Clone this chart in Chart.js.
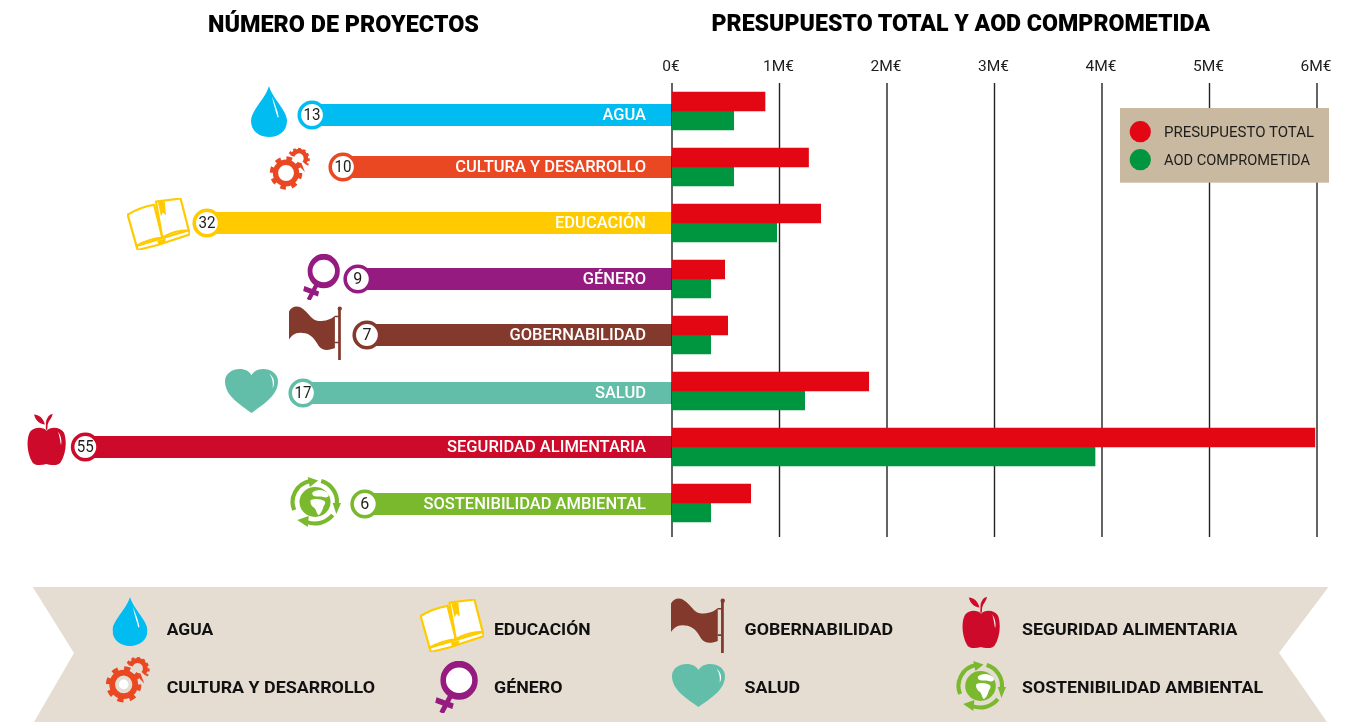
<!DOCTYPE html>
<html lang="es"><head><meta charset="utf-8"><title>Proyectos y presupuesto</title>
<script src="https://cdn.jsdelivr.net/npm/chart.js@4"></script>
<style>
html,body{margin:0;padding:0;background:#fff;width:1368px;height:722px;overflow:hidden}
canvas,#overlay{position:absolute;left:0;top:0}
#overlay text{font-family:Roboto,sans-serif}
</style></head><body>
<canvas id="left" width="1368" height="722"></canvas>
<canvas id="right" width="1368" height="722"></canvas>
<svg id="overlay" width="1368" height="722" viewBox="0 0 1368 722" xmlns="http://www.w3.org/2000/svg">
<defs>
<symbol id="i-drop" viewBox="0 0 100 100" preserveAspectRatio="none">
 <path fill="#00bcf0" d="M50 0C60 25 100 48 100 68C100 88 78 100 50 100C22 100 0 88 0 68C0 48 40 25 50 0Z"/>
 <path fill="#fff" d="M58 20C66 34 74 48 77 61L74 62C69 50 62 34 58 20Z"/>
</symbol>
<symbol id="i-gear" viewBox="0 0 100 100" preserveAspectRatio="none">
 <circle cx="41" cy="60" r="24" fill="none" stroke="#e94823" stroke-width="12"/>
 <circle cx="41" cy="60" r="32" fill="none" stroke="#e94823" stroke-width="10" stroke-dasharray="12.5 12.63"/>
 <circle cx="41" cy="60" r="10" fill="#fff"/>
 <path d="M55 22A16 16 0 1 1 82 38" fill="none" stroke="#e94823" stroke-width="10"/>
 <path d="M50 18A22 22 0 1 1 88 42" fill="none" stroke="#e94823" stroke-width="7" stroke-dasharray="6 5"/>
 <path d="M68 36L76 38L84 58L76 50Z" fill="#e94823"/>
</symbol>
<symbol id="i-book" viewBox="0 0 100 100" preserveAspectRatio="none">
 <g fill="#fff" stroke="#ffcb00" stroke-width="2.2" stroke-linejoin="round">
  <path vector-effect="non-scaling-stroke" d="M15 92L17 100L50 90L62 85L100 70L98 62Z"/>
  <path vector-effect="non-scaling-stroke" d="M1 32Q20 18 43 13L56 76Q35 78 15 92Z"/>
  <path vector-effect="non-scaling-stroke" d="M46 7Q66 4 85 1L98 62Q75 62 56 76Z"/>
 </g>
 <path fill="#ffcb00" d="M49 8L60 7L62 33L57 28L54 35ZM48 82L62 78L60 86L50 90Z"/>
</symbol>
<symbol id="i-female" viewBox="0 0 100 100" preserveAspectRatio="none">
 <path d="M37 66L15 100M2 75L42 87" fill="none" stroke="#951b81" stroke-width="11"/>
 <ellipse cx="56" cy="37" rx="37" ry="31" fill="#fff" stroke="#951b81" stroke-width="13"/>
</symbol>
<symbol id="i-flag" viewBox="0 0 100 100" preserveAspectRatio="none">
 <path fill="#83392c" d="M0 10C5 0 15-1 22 3C35 10 42 28 55 28C68 28 78 25 85 18L85 78C75 82 62 84 55 74C48 62 40 50 25 50C12 48 5 55 0 62Z"/>
 <path fill="#83392c" d="M91 5H96V100H91ZM85 18H92V21H85ZM85 66H92V69H85Z"/>
 <circle cx="94" cy="5" r="4" fill="#83392c"/>
</symbol>
<symbol id="i-heart" viewBox="0 0 100 100" preserveAspectRatio="none">
 <path fill="#62bea8" d="M50 100C30 82 0 62 0 28C0 10 14 0 28 0C38 0 46 5 50 14C54 5 62 0 72 0C86 0 100 10 100 28C100 62 70 82 50 100Z"/>
 <path fill="#fff" d="M84 11C93 20 95 32 90 44C91 32 90 21 84 11Z"/>
</symbol>
<symbol id="i-apple" viewBox="0 0 100 100" preserveAspectRatio="none">
 <path fill="#cd0a2a" d="M50 34C60 26 85 26 95 38C103 55 100 80 85 96C75 102 60 100 50 98C38 100 25 102 15 96C0 80-3 50 8 36C18 27 40 26 50 34Z"/>
 <path fill="#cd0a2a" d="M18 3C30 3 42 10 46 22C35 22 22 16 18 3ZM48 32L49 16C52 8 58 2 66 2C64 10 56 14 53 22L52 32Z"/>
 <path fill="#fff" d="M80 36C88 45 90 55 87 62C85 52 83 44 80 36Z"/>
</symbol>
<symbol id="i-earth" viewBox="0 0 100 100" preserveAspectRatio="none">
 <g fill="none" stroke="#7ab82e" stroke-width="8">
  <path d="M10 66A43 43 0 0 1 40 8"/><path d="M62 8A43 43 0 0 1 92 54"/><path d="M84 76A43 43 0 0 1 34 90"/>
 </g>
 <path fill="#7ab82e" d="M36 0L56 7L40 20ZM84 52L100 52L91 74ZM38 78L36 100L16 86Z"/>
 <circle cx="50" cy="50" r="30" fill="#7ab82e"/>
 <path fill="#fff" d="M42 46C50 42 62 44 68 48C72 52 68 56 66 60C64 68 60 76 56 76C52 70 52 62 46 60C42 56 40 50 42 46ZM46 30C54 24 68 24 76 34C78 40 72 42 66 40C60 38 54 40 48 38C44 36 44 32 46 30Z"/>
</symbol>
</defs>
<g id="art"></g>
</svg>
<script>
// ---- values ----
const categories = ["AGUA","CULTURA Y DESARROLLO","EDUCACIÓN","GÉNERO","GOBERNABILIDAD","SALUD","SEGURIDAD ALIMENTARIA","SOSTENIBILIDAD AMBIENTAL"];
const projects = [13,10,32,9,7,17,55,6];
// length of each project bar as drawn, on an axis where the longest bar reads 55
const barReach = [33.75,30.85,43.6,29.45,28.6,34.6,55,28.8];
const budgetTotal = [0.865,1.27,1.383,0.49,0.518,1.83,5.98,0.732];
const aodCommitted = [0.574,0.574,0.974,0.36,0.36,1.234,3.935,0.36];
const seriesNames = ["PRESUPUESTO TOTAL","AOD COMPROMETIDA"];
const titles = ["NÚMERO DE PROYECTOS","PRESUPUESTO TOTAL Y AOD COMPROMETIDA"];

// ---- styling ----
const catColors = ["#00bcf0","#e94823","#ffcb00","#951b81","#83392c","#62bea8","#cd0a2a","#7ab82e"];
const RED="#e30613", GREEN="#009640", INK="#1d1d1b";
const rowNudge=[4,0,0,0,0,2,0,1];

const leftPlugin={id:'leftDecor',
 afterDatasetsUpdate(c){c.data.datasets.forEach((d,i)=>c.getDatasetMeta(i).data.forEach((el,k)=>{el.y+=rowNudge[k]}));},
 afterDraw(c){const ctx=c.ctx,pts=c.getDatasetMeta(0).data;ctx.save();ctx.textBaseline='middle';
  pts.forEach((el,k)=>{
   ctx.fillStyle='#fff';ctx.textAlign='right';ctx.font='500 16.5px Roboto';
   ctx.fillText(categories[k],646,el.y+1);
   ctx.fillStyle=INK;ctx.textAlign='center';ctx.font='400 17px Roboto';
   const s=String(projects[k]);
   ctx.fillText(s,el.x,el.y+1,s.length>1?17:9);
  });ctx.restore();}};

new Chart(document.getElementById('left'),{
 type:'bar',plugins:[leftPlugin],
 data:{labels:categories,datasets:[
  {type:'line',data:barReach,showLine:false,order:1,clip:false,pointRadius:12.7,pointBorderWidth:3.6,pointBackgroundColor:'#fff',pointBorderColor:catColors},
  {type:'bar',data:barReach,order:2,backgroundColor:catColors,barThickness:21.3,borderWidth:0}
 ]},
 options:{indexAxis:'y',responsive:false,animation:false,events:[],
  layout:{autoPadding:false,padding:{left:0,right:696,top:83,bottom:191}},
  plugins:{legend:{display:false},tooltip:{enabled:false},title:{display:false}},
  scales:{x:{display:false,reverse:true,min:0,max:63},y:{display:false}}}
});

const gridPlugin={id:'longGrid',beforeDatasetsDraw(c){const x=c.scales.x,ctx=c.ctx;ctx.save();ctx.strokeStyle='#222';ctx.lineWidth=1.4;
  x.ticks.forEach(t=>{const p=x.getPixelForValue(t.value);ctx.beginPath();ctx.moveTo(p,83);ctx.lineTo(p,537);ctx.stroke();});ctx.restore();}};

new Chart(document.getElementById('right'),{
 type:'bar',plugins:[gridPlugin],
 data:{labels:categories,datasets:[
  {label:seriesNames[0],data:budgetTotal,backgroundColor:RED,barThickness:19,borderWidth:0},
  {label:seriesNames[1],data:aodCommitted,backgroundColor:GREEN,barThickness:19,borderWidth:0}
 ]},
 options:{indexAxis:'y',responsive:false,animation:false,events:[],
  layout:{autoPadding:false,padding:{left:672,right:51,top:0,bottom:191}},
  plugins:{legend:{display:false},tooltip:{enabled:false},title:{display:false}},
  scales:{
   x:{position:'top',min:0,max:6,afterFit(s){s.height=83;},
      grid:{display:false},border:{display:false},
      ticks:{stepSize:1,maxRotation:0,padding:-1,labelOffset:-1,color:INK,font:{family:'Roboto',size:15.5,weight:'400'},callback:v=>v===0?'0€':v+'M€'}},
   y:{display:false}}}
});

// ---- page furniture: titles, legend panel, band, icons ----
const iconIds=['drop','gear','book','female','flag','heart','apple','earth'];
const rowIcons=[[251,86,36,51],[268,146,44,45],[127,198,63,52],[303,254,37,46],[289,306,54,54],[225,369,53,44],[27,413,39,52],[289,477,52,50]];
const keyIcons=[[112.5,597,35,49],[104,655,48,49],[420,599,64,53],[435,661,43,52],[671,598,55,55],[672,664,53,43],[962,596,38,52],[955,661,51,50]];
const keyText=[[166.7,634.5,46.5],[166.7,692.5,208.3],[494,634.5,96.5],[494,692.5,68.5],[744.5,634.5,148.5],[744.5,692.5,55.5],[1022,634.5,215.5],[1022,692.5,241]];
const use=(id,b)=>`<use href="#i-${id}" x="${b[0]}" y="${b[1]}" width="${b[2]}" height="${b[3]}"/>`;
const txt=(s,x,y,w,size,weight,fill)=>`<text x="${x}" y="${y}" textLength="${w}" lengthAdjust="spacingAndGlyphs" font-size="${size}" font-weight="${weight}" fill="${fill}">${s}</text>`;
let h='';
h+=txt(titles[0],208,31.5,271,24,900,'#000');
h+=txt(titles[1],711.5,31,498.5,24,900,'#000');
h+=`<rect x="1120" y="108" width="209" height="74.7" fill="#c9b9a0"/>`;
h+=`<circle cx="1140.3" cy="131.7" r="10.6" fill="${RED}"/><circle cx="1140.3" cy="159.7" r="10.6" fill="${GREEN}"/>`;
h+=txt(seriesNames[0],1164,137,150,14.5,400,INK);
h+=txt(seriesNames[1],1164,165,146,14.5,400,INK);
h+=`<polygon points="32.7,587 1328.5,587 1279,652.7 1327,722 34,722 74,653" fill="#e5ddd2"/>`;
iconIds.forEach((id,i)=>{h+=use(id,rowIcons[i])+use(id,keyIcons[i]);
 h+=txt(categories[i],keyText[i][0],keyText[i][1],keyText[i][2],16.5,700,'#111');});
document.getElementById('art').innerHTML=h;
</script>
</body></html>
